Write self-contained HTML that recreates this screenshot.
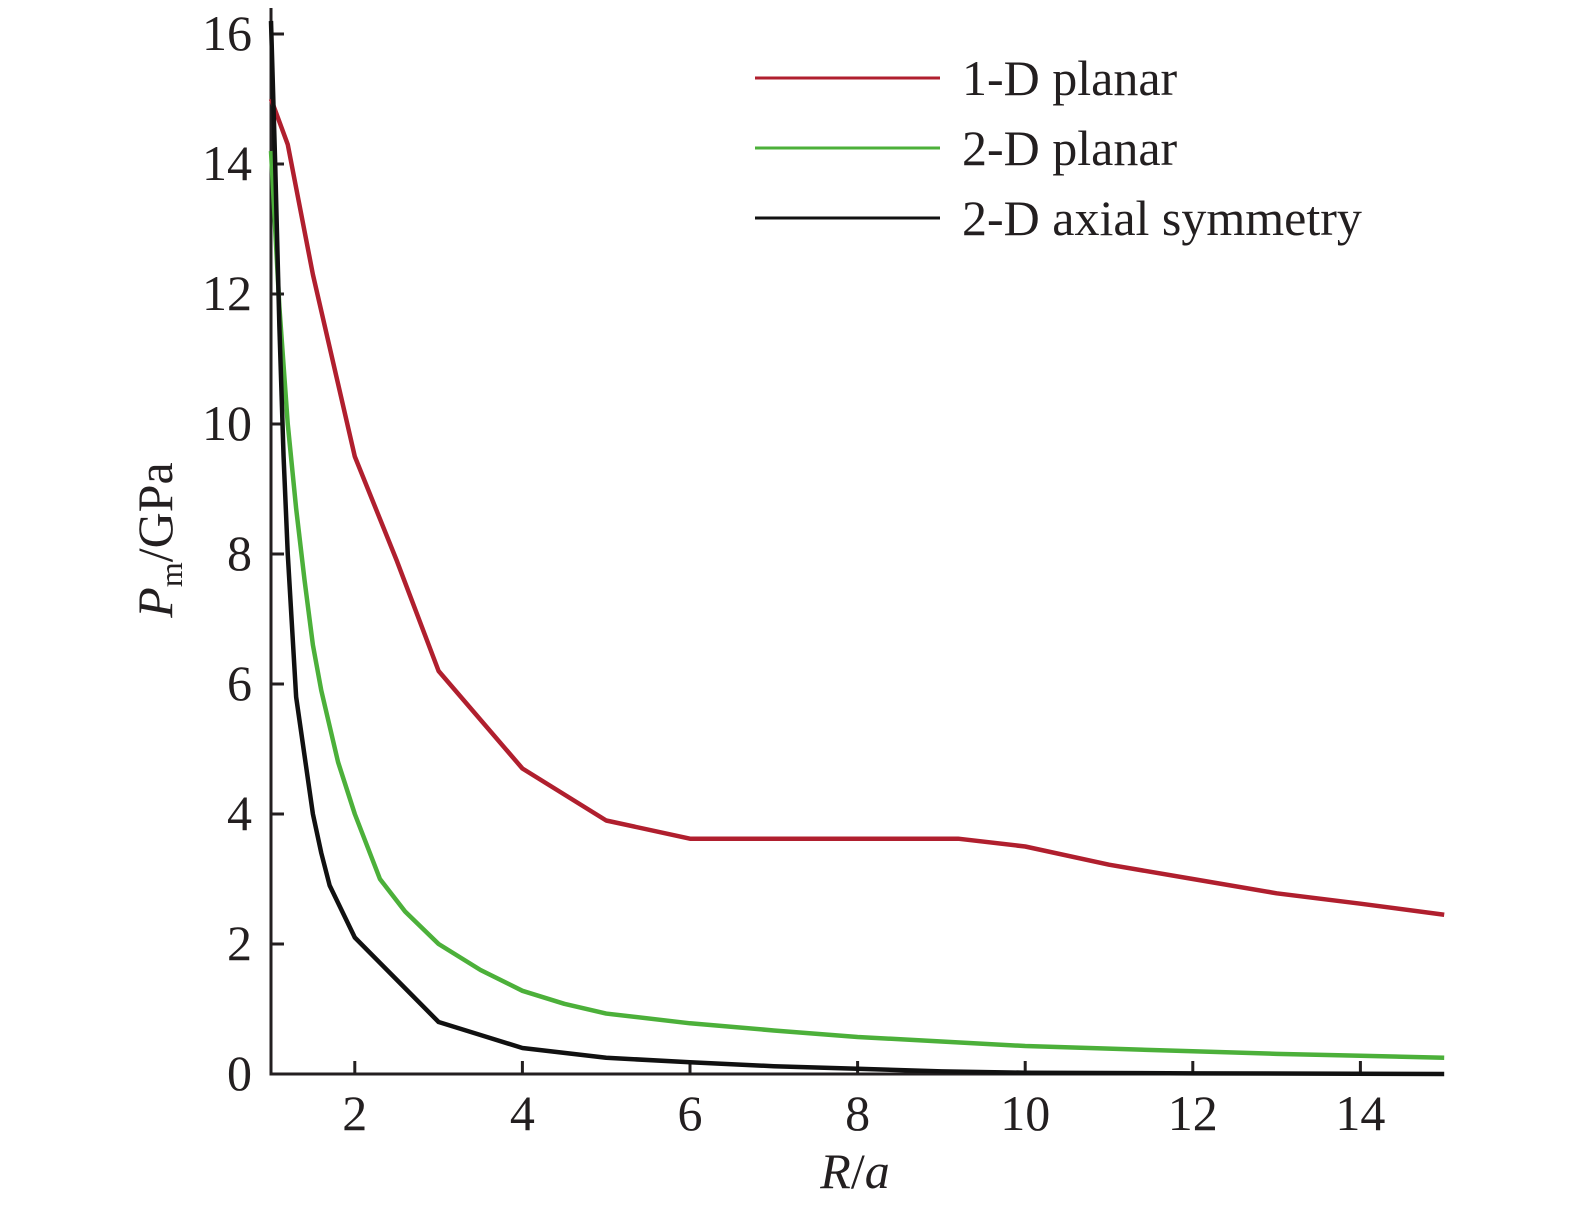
<!DOCTYPE html>
<html><head><meta charset="utf-8"><style>
body{margin:0;background:#fff}
text{font-family:"Liberation Serif",serif;fill:#231f20}
</style></head><body>
<svg id="chart" width="1575" height="1215" xmlns="http://www.w3.org/2000/svg">
<g id="axes"></g><g id="series"></g>
<g>
<line x1="755" y1="78" x2="940" y2="78" stroke="#b01f2e" stroke-width="3"/>
<text x="962" y="95" font-size="50">1-D planar</text>
<line x1="755" y1="148" x2="940" y2="148" stroke="#4cb03a" stroke-width="3"/>
<text x="962" y="165" font-size="50">2-D planar</text>
<line x1="755" y1="218" x2="940" y2="218" stroke="#111" stroke-width="3"/>
<text x="962" y="235" font-size="50">2-D axial symmetry</text>
</g>
<text x="855" y="1188" font-size="50" text-anchor="middle" font-style="italic">R<tspan font-style="normal">/</tspan>a</text>
<text transform="translate(172,540) rotate(-90)" font-size="50" text-anchor="middle"><tspan font-style="italic">P</tspan><tspan font-size="32" dy="10">m</tspan><tspan dy="-10">/GPa</tspan></text>
</svg>
<script>
const xTicks=[2,4,6,8,10,12,14];
const yTicks=[0,2,4,6,8,10,12,14,16];
const rX1=[1,1.2,1.5,2,2.5,3,4,5,6,7,8,9.2,10,11,12,13,14,15];
const rY1=[15,14.3,12.3,9.5,7.9,6.2,4.7,3.9,3.62,3.62,3.62,3.62,3.5,3.22,3.0,2.78,2.62,2.45];
const gX=[1,1.1,1.2,1.3,1.4,1.5,1.6,1.8,2,2.3,2.6,3,3.5,4,4.5,5,6,7,8,9,10,11,12,13,14,15];
const gY=[14.2,11.8,10.0,8.7,7.6,6.6,5.9,4.8,4.0,3.0,2.5,2.0,1.6,1.28,1.08,0.93,0.78,0.67,0.57,0.5,0.43,0.39,0.35,0.31,0.28,0.25];
const bX=[1,1.05,1.1,1.15,1.2,1.3,1.4,1.5,1.6,1.7,2,2.5,3,3.5,4,5,6,7,8,9,10,12,15];
const bY=[16.2,14,11.5,9.5,8,5.8,4.9,4.0,3.4,2.9,2.1,1.45,0.8,0.6,0.4,0.25,0.18,0.12,0.08,0.04,0.02,0.01,0];
const NS="http://www.w3.org/2000/svg";
const sx=v=>271+(v-1)*83.8, sy=v=>1074-v*65;
function mk(t,a,p){const e=document.createElementNS(NS,t);for(const k in a)e.setAttribute(k,a[k]);p.appendChild(e);return e;}
const ax=document.getElementById('axes');
let e=mk('path',{d:`M271,8V1074H1443`,fill:'none',stroke:'#231f20','stroke-width':3},ax);


xTicks.forEach(v=>{
 let l=mk('line',{x1:sx(v),x2:sx(v),y1:1074,y2:1061,stroke:'#231f20','stroke-width':3},ax);
 
 
 let t=mk('text',{x:sx(v),y:1130,'font-size':50,'text-anchor':'middle'},ax);t.textContent=v;
 
 
});
yTicks.forEach(v=>{
 let l=mk('line',{x1:271,x2:284,y1:sy(v),y2:sy(v),stroke:'#231f20','stroke-width':3},ax);
 
 
 let t=mk('text',{x:252,y:sy(v)+16,'font-size':50,'text-anchor':'end'},ax);t.textContent=v;
 
 
});
const sg=document.getElementById('series');
[[rX1,rY1,'#b01f2e','line-1d-planar'],[gX,gY,'#4cb03a','line-2d-planar'],[bX,bY,'#111','line-2d-axial']].forEach(([xs,ys,c,n])=>{
 let p=mk('polyline',{points:xs.map((x,i)=>sx(x)+','+sy(ys[i])).join(' '),fill:'none',stroke:c,'stroke-width':4.5,'stroke-linejoin':'round'},sg);
 
 
});
</script>
</body></html>
